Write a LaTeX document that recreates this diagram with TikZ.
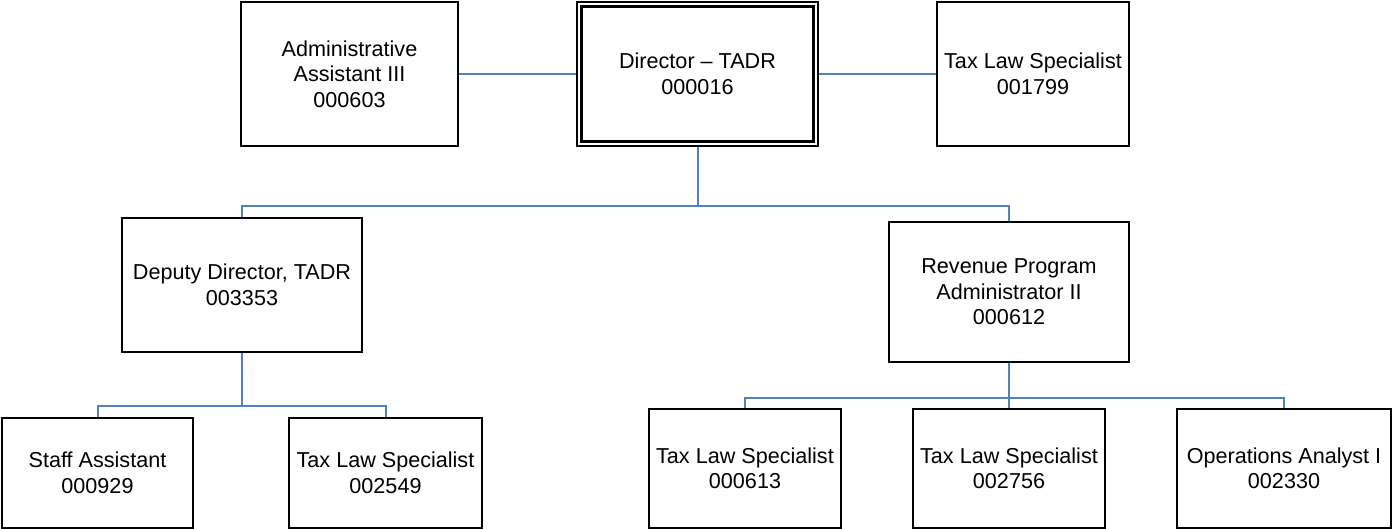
\documentclass[tikz,border=0pt]{standalone}
\usepackage{fontspec}
\setmainfont{Liberation Sans}
\definecolor{linkblue}{RGB}{79,129,189}
\begin{document}
\begin{tikzpicture}[x=1pt,y=-1pt,
  post/.style={draw=black, line width=1.6pt, fill=white, inner sep=0pt,
    align=center, font=\fontsize{21.6}{25.5}\selectfont},
  link/.style={draw=linkblue, line width=2pt}]
\useasboundingbox (0,0) rectangle (1395,529);

% top row
\node[post, minimum width=217pt, minimum height=144pt] (admin) at (349.5,74)
  {Administrative\\Assistant III\\000603};
\node[post, line width=1.4pt, minimum width=241pt, minimum height=144pt] (director) at (697.5,74)
  {Director -- TADR\\000016};
\draw[line width=2.6pt] ([shift={(5pt,-5pt)}]director.north west)
  rectangle ([shift={(-5pt,5pt)}]director.south east);
\node[post, minimum width=192pt, minimum height=144pt] (taxtop) at (1033,74)
  {Tax Law Specialist\\001799};

% second row
\node[post, minimum width=240pt, minimum height=134pt] (deputy) at (242,285)
  {Deputy Director, TADR\\003353};
\node[post, minimum width=240pt, minimum height=140pt] (revenue) at (1009,292)
  {Revenue Program\\Administrator II\\000612};

% bottom row
\node[post, minimum width=191pt, minimum height=110pt] (staff) at (97.5,473)
  {Staff Assistant\\000929};
\node[post, minimum width=193pt, minimum height=110pt] (taxdep) at (385.5,473)
  {Tax Law Specialist\\002549};
\node[post, minimum width=192pt, minimum height=119pt] (taxrevA) at (745,468.5)
  {Tax Law Specialist\\000613};
\node[post, minimum width=192pt, minimum height=119pt] (taxrevB) at (1009,468.5)
  {Tax Law Specialist\\002756};
\node[post, minimum width=214pt, minimum height=119pt] (ops) at (1284,468.5)
  {Operations Analyst I\\002330};

% bus junctions
\coordinate (busTop) at (697.5,206);
\coordinate (busDep) at (242,406);
\coordinate (busRev) at (1009,397.5);

% connectors
\draw[link] (admin.east) -- (director.west);
\draw[link] (director.east) -- (taxtop.west);
\draw[link] (director.south) -- (busTop);
\draw[link] (deputy.north) |- (busTop) -| (revenue.north);
\draw[link] (deputy.south) -- (busDep);
\draw[link] (staff.north) |- (busDep) -| (taxdep.north);
\draw[link] (revenue.south) -- (busRev);
\draw[link] (taxrevA.north) |- (busRev) -| (ops.north);
\draw[link] (busRev) -- (taxrevB.north);
\end{tikzpicture}
\end{document}
